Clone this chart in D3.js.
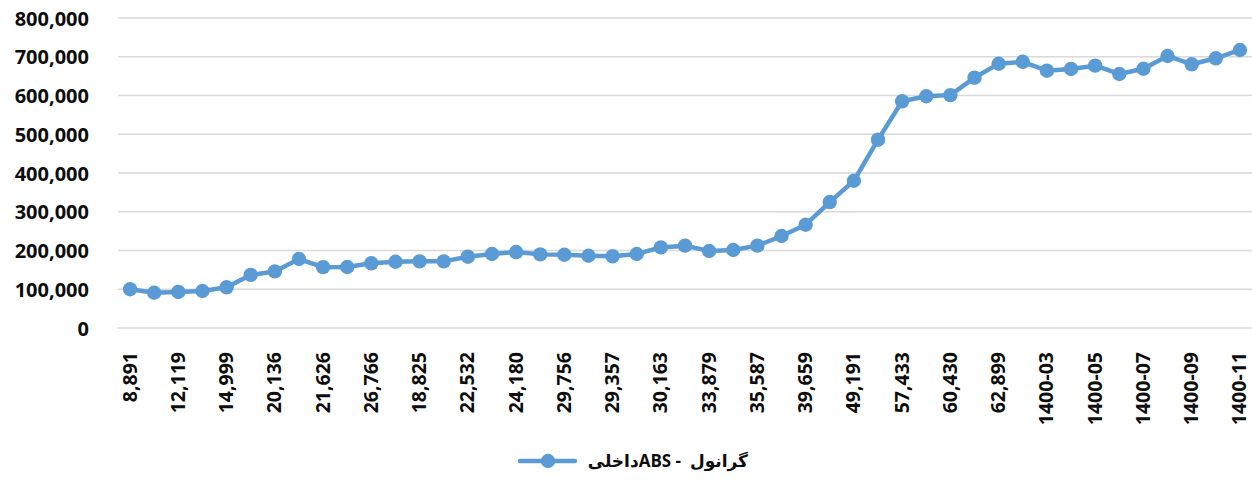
<!DOCTYPE html>
<html>
<head>
<meta charset="utf-8">
<script src="https://cdn.jsdelivr.net/npm/d3@7"></script>
<style>
  html, body { margin: 0; padding: 0; background: #fff; }
</style>
</head>
<body>
<div id="chart"></div>
<script>
// values, one per category (47 points)
const values = [
    100000, 91000, 93000, 95500, 105000, 137000, 146000, 178000, 157000, 157500,
    167000, 171000, 172000, 172000, 184000, 191000, 196000, 190000, 189000, 186500,
    185000, 191000, 208000, 212500, 198700, 201300, 212500, 237500, 266500, 325000,
    380000, 486000, 585000, 598000, 601000, 646000, 682000, 687000, 664000, 668500,
    677000, 655500, 669000, 702000, 680500, 696000, 717500
];

// only every second category label is printed on the axis
const tickLabels = [
    "8,891", "12,119", "14,999", "20,136", "21,626", "26,766", "18,825", "22,532",
    "24,180", "29,756", "29,357", "30,163", "33,879", "35,587", "39,659", "49,191",
    "57,433", "60,430", "62,899", "1400-03", "1400-05", "1400-07", "1400-09", "1400-11"
];

const yTicks = [0, 100000, 200000, 300000, 400000, 500000, 600000, 700000, 800000];
const seriesName = "گرانول - ABSداخلی";

const width = 1252, height = 483;
const margin = { top: 18, right: 0, bottom: 155, left: 118 };
const color = "#5b9bd5";
const font = "'Open Sans', 'DejaVu Sans', sans-serif";

const svg = d3.select("#chart")
    .append("svg")
    .attr("width", width)
    .attr("height", height)
    .style("font-family", font)
    .style("display", "block");

const x = d3.scalePoint()
    .domain(d3.range(values.length))
    .range([margin.left, width - margin.right])
    .padding(0.5);

const y = d3.scaleLinear()
    .domain([0, 800000])
    .range([height - margin.bottom, margin.top]);

// gridlines
svg.append("g")
    .selectAll("line")
    .data(yTicks)
    .enter()
    .append("line")
    .attr("x1", margin.left)
    .attr("x2", width - margin.right)
    .attr("y1", d => y(d))
    .attr("y2", d => y(d))
    .attr("stroke", "#d9d9d9")
    .attr("stroke-width", 1.5);

// y axis
const yAxis = svg.append("g")
    .attr("transform", `translate(${margin.left - 29},0)`)
    .call(d3.axisLeft(y).tickValues(yTicks).tickSize(0).tickPadding(0).tickFormat(d3.format(",")));
yAxis.select(".domain").remove();
yAxis.selectAll("text")
    .style("font-family", font)
    .style("font-size", "20px")
    .style("font-weight", "bold")
    .style("fill", "#0d0d0d")
    .attr("dy", "0.36em");

// x axis, labels rotated
const xAxis = svg.append("g")
    .attr("transform", `translate(0,${height - margin.bottom})`)
    .call(d3.axisBottom(x)
        .tickValues(d3.range(0, values.length, 2))
        .tickSize(0)
        .tickFormat(d => tickLabels[d / 2]));
xAxis.select(".domain").remove();
xAxis.selectAll("text")
    .attr("transform", "rotate(-90)")
    .attr("x", -24)
    .attr("y", 0)
    .attr("dy", "0.31em")
    .style("text-anchor", "end")
    .style("font-family", font)
    .style("font-size", "19.5px")
    .style("font-weight", "bold")
    .style("fill", "#0d0d0d");

// series line
const line = d3.line()
    .x((d, i) => x(i))
    .y(d => y(d));

svg.append("path")
    .datum(values)
    .attr("fill", "none")
    .attr("stroke", color)
    .attr("stroke-width", 4.5)
    .attr("stroke-linejoin", "round")
    .attr("d", line);

svg.append("g")
    .selectAll("circle")
    .data(values)
    .enter()
    .append("circle")
    .attr("cx", (d, i) => x(i))
    .attr("cy", d => y(d))
    .attr("r", 7.2)
    .attr("fill", color);

// legend
const legend = svg.append("g").attr("transform", "translate(0,461)");
legend.append("line")
    .attr("x1", 520).attr("x2", 575)
    .attr("stroke", color)
    .attr("stroke-width", 4.5)
    .attr("stroke-linecap", "round");
legend.append("circle")
    .attr("cx", 548)
    .attr("r", 7.2)
    .attr("fill", color);
legend.append("text")
    .attr("x", 748)
    .attr("y", 6)
    .attr("direction", "rtl")
    .attr("xml:space", "preserve")
    .style("white-space", "pre")
    .style("text-anchor", "start")
    .style("font-family", font)
    .style("font-size", "17px")
    .style("font-weight", "bold")
    .style("fill", "#0d0d0d")
    .text("گرانول  - ABSداخلی");
</script>
</body>
</html>
